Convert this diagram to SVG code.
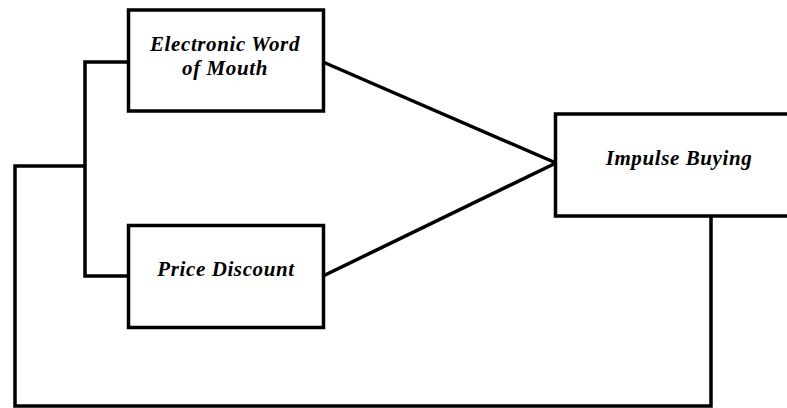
<svg xmlns="http://www.w3.org/2000/svg" width="787" height="408" viewBox="0 0 787 408">
<style>
.box{fill:#fff;stroke:#000;stroke-width:3.5}
.ln{fill:none;stroke:#000;stroke-width:3.5;stroke-linejoin:miter}
.t{font-family:"Liberation Serif","Times New Roman",serif;font-size:21px;letter-spacing:0.6px;font-weight:bold;font-style:italic;fill:#000;text-anchor:middle}
</style>
<rect width="787" height="408" fill="#fff"/>
<g id="connectors">
<polyline class="ln" points="128,62 85,62 85,276 128,276"/>
<polyline class="ln" points="85,166 15,166 15,406 711,406 711,216"/>
<line class="ln" x1="323" y1="62" x2="556" y2="163"/>
<line class="ln" x1="323" y1="276" x2="556" y2="163"/>
</g>
<g id="ewom">
<rect class="box" x="128.5" y="10" width="195" height="101"/>
<text class="t" x="225" y="51">Electronic Word</text>
<text class="t" x="225" y="75">of Mouth</text>
</g>
<g id="price-discount">
<rect class="box" x="128.5" y="225.5" width="195" height="102"/>
<text class="t" x="226" y="276">Price Discount</text>
</g>
<g id="impulse-buying">
<rect class="box" x="555.5" y="114" width="240" height="102"/>
<text class="t" x="679" y="165">Impulse Buying</text>
</g>
</svg>
